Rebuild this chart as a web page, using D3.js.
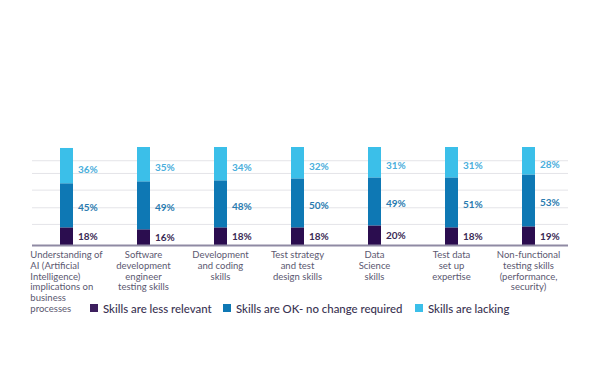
<!DOCTYPE html>
<html><head><meta charset="utf-8">
<script src="https://cdn.jsdelivr.net/npm/d3@7"></script>
<style>body{margin:0;background:#fff;}svg{display:block;}</style>
</head><body>
<svg id="c" width="610" height="380"></svg>
<script>
const categories = [
  ["Understanding of","AI (Artificial","Intelligence)","implications on","business","processes"],
  ["Software","development","engineer","testing skills"],
  ["Development","and coding","skills"],
  ["Test strategy","and test","design skills"],
  ["Data","Science","skills"],
  ["Test data","set up","expertise"],
  ["Non-functional","testing skills","(performance,","security)"]
];
const lessRelevant = [18,16,18,18,20,18,19];
const okNoChange   = [45,49,48,50,49,51,53];
const lacking      = [36,35,34,32,31,31,28];
const seriesNames = ["Skills are less relevant","Skills are OK- no change required","Skills are lacking"];
const gridValues = [21,38,56,73,86];

const colors = ["#2b0d4f","#0e78b4","#3bbfe9"];
const labelColors = ["#3a2a55","#2a7bb0","#4aaedc"];
const font = "Lato, 'Noto Sans', sans-serif";

const svg = d3.select("#c");
const x = d3.scaleBand().domain(d3.range(categories.length)).range([28,567]);
const y = d3.scaleLinear().domain([0,100]).range([245,147]);
const barW = 13;

// grid
svg.append("g").selectAll("line").data(gridValues).join("line")
  .attr("x1",32).attr("x2",568)
  .attr("y1",d=>y(d)).attr("y2",d=>y(d))
  .attr("stroke","#e4e4e8").attr("stroke-width",1);

const series = [lessRelevant, okNoChange, lacking];
const rows = categories.map((c,i)=>{
  let acc=0; return series.map((s,k)=>{const y0=acc; acc+=s[i]; return {i,k,y0,y1:acc,v:s[i]};});
});
const segs = rows.flat();

svg.append("g").selectAll("rect").data(segs).join("rect")
  .attr("x",d=>x(d.i)+x.bandwidth()/2-barW/2)
  .attr("width",barW)
  .attr("y",d=>y(d.y1))
  .attr("height",d=>y(d.y0)-y(d.y1))
  .attr("fill",d=>colors[d.k]);

// baseline
svg.append("line").attr("x1",32).attr("x2",568).attr("y1",y(0)+0.5).attr("y2",y(0)+0.5)
  .attr("stroke","#8f8aa3").attr("stroke-width",2);

// value labels
svg.append("g").selectAll("text").data(segs).join("text")
  .attr("x",d=>x(d.i)+x.bandwidth()/2+barW/2+5)
  .attr("y",d=>(y(d.y0)+y(d.y1))/2 + (d.k===0?4:d.k===1?6:7))
  .attr("font-family",font).attr("font-size",10).attr("font-weight",700)
  .attr("fill",d=>labelColors[d.k])
  .text(d=>d.v+"%");

// category labels
const cat = svg.append("g").selectAll("text").data(categories).join("text")
  .attr("font-family",font).attr("font-size",9.5).attr("fill","#5b5870")
  .attr("text-anchor",(d,i)=>i===0?"start":"middle")
  .attr("y",258);
cat.each(function(lines,i){
  const t=d3.select(this);
  lines.forEach((l,j)=>t.append("tspan").attr("x",x(i)+x.bandwidth()/2).attr("dy",j?10.8:0).text(l));
});
// first label: left-aligned block centered on its widest line
{
  const t = cat.filter((d,i)=>i===0);
  let maxW=0; t.selectAll("tspan").each(function(){maxW=Math.max(maxW,this.getComputedTextLength());});
  t.selectAll("tspan").attr("x",x(0)+x.bandwidth()/2-maxW/2);
}

// legend
const legX = [90,223,415];
const leg = svg.append("g").selectAll("g").data(seriesNames).join("g")
  .attr("transform",(d,i)=>`translate(${legX[i]},304)`);
leg.append("rect").attr("width",8).attr("height",8).attr("fill",(d,i)=>i===0?"#3d1f5e":colors[i]);
leg.append("text").attr("x",13).attr("y",8.5)
  .attr("font-family",font).attr("font-size",11.4).attr("font-weight",500)
  .attr("fill","#3a3352").text(d=>d);
</script>
</body></html>
